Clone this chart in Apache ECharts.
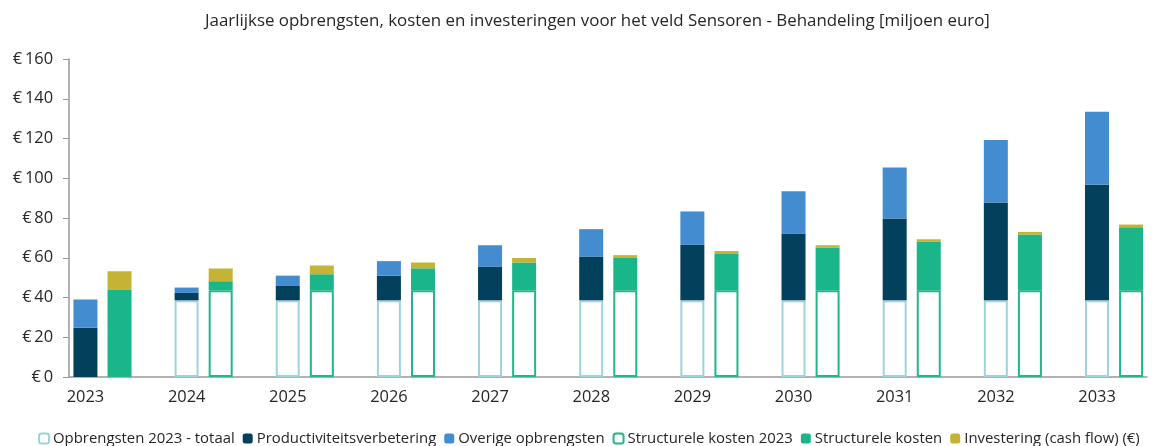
<!DOCTYPE html>
<html><head><meta charset="utf-8">
<script src="https://cdn.jsdelivr.net/npm/echarts@6/dist/echarts.min.js"></script>
<style>html,body{margin:0;padding:0;background:#fff}#c{width:1162px;height:446px}</style>
</head><body><div id="c"></div>
<script>
const categories = ['2023','2024','2025','2026','2027','2028','2029','2030','2031','2032','2033'];
const opbrengsten2023 = [0, 38.6, 38.6, 38.6, 38.6, 38.6, 38.6, 38.6, 38.6, 38.6, 38.6];
const productiviteit = [24.8, 3.7, 7.2, 12.4, 16.8, 22.0, 27.9, 33.6, 41.2, 49.2, 58.1];
const overige = [14.2, 2.7, 5.2, 7.3, 10.9, 13.8, 16.8, 21.3, 25.6, 31.5, 36.7];
const structKosten2023 = [0, 43.7, 43.7, 43.7, 43.7, 43.7, 43.7, 43.7, 43.7, 43.7, 43.7];
const structKosten = [43.8, 4.5, 8.0, 11.0, 13.9, 16.2, 18.2, 21.3, 24.3, 28.0, 31.7];
const investering = [9.4, 6.4, 4.4, 2.9, 2.3, 1.4, 1.5, 1.3, 1.3, 1.3, 1.3];

const FONT = 'Open Sans';
const TXT = '#262626';
// value first so the stack is computed on the y dimension
const toPts = arr => arr.map((v, i) => [v === 0 ? '-' : v, i]);
const labelShift = 0.168;

const chart = echarts.init(document.getElementById('c'), null, {renderer: 'canvas'});
const mk = (name, data, stack, style) => ({
  name, type: 'bar', stack, data: toPts(data), encode: {x: 1, y: 0},
  barWidth: 24, barGap: '42%',
  itemStyle: style, emphasis: {disabled: true}
});
chart.setOption({
  animation: false,
  textStyle: {fontFamily: FONT, color: TXT},
  title: {text: 'Jaarlijkse opbrengsten, kosten en investeringen voor het veld Sensoren - Behandeling [miljoen euro]',
    left: 200, top: 8, textStyle: {fontFamily: FONT, fontSize: 16.9, fontWeight: 'normal', color: TXT}},
  grid: {left: 69, right: 15, top: 59, bottom: 69, containLabel: false},
  legend: {top: 426, left: 38, width: 1124, padding: [5, 0, 5, 0], itemWidth: 10, itemHeight: 10, itemGap: 8,
    textStyle: {fontFamily: FONT, fontSize: 14.9, color: TXT, padding: [0, 0, 0, -1]}},
  xAxis: {type: 'value', min: -0.331, max: 10.326,
    axisLine: {show: true, lineStyle: {color: '#999', width: 1.5}},
    axisTick: {show: false}, splitLine: {show: false},
    axisLabel: {customValues: categories.map((c, i) => i - labelShift), margin: 12,
      fontFamily: FONT, fontSize: 16.4, color: TXT,
      formatter: v => categories[Math.round(v + labelShift)]}},
  yAxis: {type: 'value', min: 0, max: 160, interval: 20,
    axisLine: {show: true, onZero: false, lineStyle: {color: '#999', width: 1.5}},
    axisTick: {show: true, length: 6, lineStyle: {color: '#999'}},
    splitLine: {show: false},
    axisLabel: {fontFamily: FONT, fontSize: 16.4, color: TXT, margin: 16,
      formatter: v => '€\u2009' + v}},
  series: [
    mk('Opbrengsten 2023 - totaal', opbrengsten2023, 'rev', {color: '#fff', borderColor: '#9fd3dc', borderWidth: 2}),
    mk('Productiviteitsverbetering', productiviteit, 'rev', {color: '#02405b'}),
    mk('Overige opbrengsten', overige, 'rev', {color: '#438ccf'}),
    mk('Structurele kosten 2023', structKosten2023, 'cost', {color: '#fff', borderColor: '#1db88b', borderWidth: 2}),
    mk('Structurele kosten', structKosten, 'cost', {color: '#1bb58a'}),
    mk('Investering (cash flow) (€)', investering, 'cost', {color: '#c4b334'})
  ]
});
</script></body></html>
